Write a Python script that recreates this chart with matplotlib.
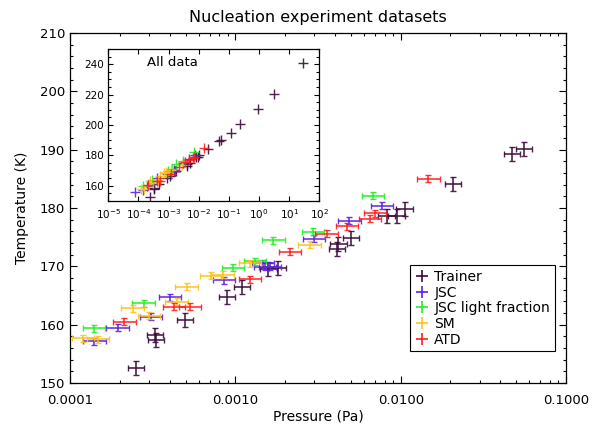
import numpy as np
import matplotlib
matplotlib.use("Agg")
import matplotlib.pyplot as plt
from matplotlib.ticker import LogLocator, MultipleLocator, FixedLocator, NullLocator, FuncFormatter
from matplotlib.lines import Line2D

plt.rcParams['font.family'] = ['DejaVu Sans']
plt.rcParams['mathtext.default'] = 'regular'

# ---- data (pressure in Pa, temperature in K) ----
trainer_p = [2.5e-4, 3.27e-4, 3.30e-4, 4.98e-4, 8.87e-4, 1.093e-3, 1.584e-3, 1.80e-3,
             4.105e-3, 4.20e-3, 5.01e-3, 8.22e-3, 9.45e-3, 1.056e-2, 2.07e-2, 4.7e-2, 5.58e-2,
             0.12, 0.24, 0.9, 3.2, 29.5]
trainer_t = [152.5, 158.2, 157.4, 160.8, 164.8, 166.4, 169.6, 169.8,
             172.9, 173.9, 174.9, 178.7, 178.6, 179.9, 184.2, 189.3, 190.1,
             194.8, 200.4, 210.4, 220.1, 240.6]

jsc_p = [7.7e-5, 1.406e-4, 1.938e-4, 3.09e-4, 4.03e-4, 8.55e-4, 1.471e-3, 1.512e-3, 1.622e-3,
         2.99e-3, 4.895e-3, 7.69e-3]
jsc_t = [155.9, 157.2, 159.5, 161.4, 164.7, 167.6, 170.5, 169.9, 169.9,
         174.7, 177.8, 180.4]

jscl_p = [1.397e-4, 2.784e-4, 9.65e-4, 1.316e-3, 1.698e-3, 2.94e-3, 6.81e-3]
jscl_t = [159.4, 163.7, 169.8, 170.9, 174.5, 175.9, 182.1]

sm_p = [1.198e-4, 1.477e-4, 2.388e-4, 3.004e-4, 4.41e-4, 5.08e-4, 7.13e-4, 8.39e-4,
        1.227e-3, 2.81e-3]
sm_t = [157.7, 157.5, 162.8, 161.5, 163.9, 166.5, 168.4, 168.6, 170.5, 173.7]

atd_p = [2.131e-4, 4.26e-4, 5.32e-4, 1.227e-3, 2.143e-3, 3.57e-3, 4.72e-3, 6.53e-3,
         7.00e-3, 1.471e-2]
atd_t = [160.5, 163.1, 163.1, 167.8, 172.5, 175.6, 176.9, 178.2, 179.1, 185.0]

# error estimates: multiplicative factor on pressure, +/- K on temperature
trainer_pfac, trainer_terr = 1.12, 1.2
other_pfac, other_terr = 1.17, 0.6

labels = ['Trainer', 'JSC', 'JSC light fraction', 'SM', 'ATD']
colors = ['#3a0a3c', '#5b22dd', '#22ee22', '#ffc21a', '#ff1e1e']
datasets = [(trainer_p, trainer_t, trainer_pfac, trainer_terr),
            (jsc_p, jsc_t, other_pfac, other_terr),
            (jscl_p, jscl_t, other_pfac, other_terr),
            (sm_p, sm_t, other_pfac, other_terr),
            (atd_p, atd_t, other_pfac, other_terr)]

fig = plt.figure(figsize=(6.03, 4.25), dpi=100)
ax = fig.add_axes([0.1161, 0.0988, 0.8226, 0.8235])

for (p, t, fac, terr), c in zip(datasets, colors):
  p = np.array(p)
  t = np.array(t)
  xerr = [p - p / fac, p * fac - p]
  ax.errorbar(p, t, xerr=xerr, yerr=terr, fmt='none', ecolor=c, elinewidth=1.2,
              capsize=2.2, capthick=1.0, alpha=0.9)

ax.set_xscale('log')
ax.set_xlim(1e-4, 1e-1)
ax.set_ylim(150, 210)
ax.xaxis.set_major_locator(FixedLocator([1e-4, 1e-3, 1e-2, 1e-1]))
ax.xaxis.set_major_formatter(FuncFormatter(lambda v, pos: '%.4f' % v))
ax.xaxis.set_minor_locator(LogLocator(base=10, subs=np.arange(2, 10), numticks=20))
ax.yaxis.set_major_locator(MultipleLocator(10))
ax.yaxis.set_minor_locator(MultipleLocator(2))
ax.tick_params(which='both', direction='in', top=True, right=True, labelsize=9.5, width=0.8)
ax.tick_params(which='major', length=5)
ax.tick_params(which='minor', length=2.5)
ax.tick_params(axis='x', which='both', pad=8)
ax.tick_params(axis='y', which='both', pad=3.5)
for s in ax.spines.values():
  s.set_linewidth(0.9)
ax.set_xlabel('Pressure (Pa)', fontsize=10, labelpad=2)
ax.set_ylabel('Temperature (K)', fontsize=10, labelpad=8)
ax.set_title('Nucleation experiment datasets', fontsize=11.5, pad=8)

handles = [Line2D([], [], color=c, marker='+', linestyle='none', markersize=8, markeredgewidth=1.2)
           for c in colors]
leg = ax.legend(handles, labels, loc='upper left', bbox_to_anchor=(0.6855, 0.337),
                borderaxespad=0, fontsize=10, handlelength=1.0, handletextpad=0.4,
                borderpad=0.35, labelspacing=0.12, fancybox=False, framealpha=1,
                edgecolor='black')
leg.get_frame().set_linewidth(0.8)

# inset with all data
ins = fig.add_axes([0.1796, 0.5278, 0.3499, 0.3569])
for (p, t, fac, terr), c in zip(datasets, colors):
  ins.plot(p, t, linestyle='none', marker='+', color=c, markersize=6.5, markeredgewidth=1.0, alpha=0.9)
ins.set_xscale('log')
ins.set_xlim(1e-5, 1e2)
ins.set_ylim(150, 250)
ins.xaxis.set_major_locator(FixedLocator([10.0 ** k for k in range(-5, 3)]))
ins.xaxis.set_major_formatter(FuncFormatter(lambda v, pos: '$10^{%d}$' % int(round(np.log10(v)))))
ins.xaxis.set_minor_locator(NullLocator())
ins.yaxis.set_major_locator(MultipleLocator(20))
ins.yaxis.set_minor_locator(MultipleLocator(5))
ins.tick_params(which='both', direction='in', top=True, right=True, labelsize=7.5, width=0.8)
ins.tick_params(which='major', length=3.5)
ins.tick_params(which='minor', length=2)
ins.tick_params(axis='x', which='both', pad=5)
ins.tick_params(axis='y', which='both', pad=3)
for s in ins.spines.values():
  s.set_linewidth(0.9)
ins.text(0.185, 0.914, 'All data', transform=ins.transAxes, fontsize=9.5, ha='left', va='center')

plt.savefig('out.png', dpi=100)
